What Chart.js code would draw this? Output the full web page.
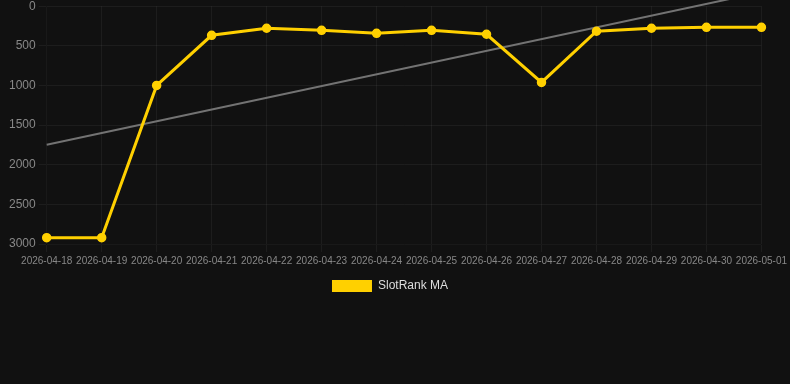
<!DOCTYPE html>
<html>
<head>
<meta charset="utf-8">
<script src="https://cdn.jsdelivr.net/npm/chart.js@4"></script>
<style>
    html, body { margin: 0; padding: 0; background: #111111; overflow: hidden; }
    #wrap { width: 790px; height: 306px; position: relative; margin-top: -4px; }
</style>
</head>
<body>
<div id="wrap"><canvas id="rankChart"></canvas></div>
<script>
const dates = ["2026-04-18", "2026-04-19", "2026-04-20", "2026-04-21", "2026-04-22", "2026-04-23", "2026-04-24",
    "2026-04-25", "2026-04-26", "2026-04-27", "2026-04-28", "2026-04-29", "2026-04-30", "2026-05-01"];
const rankMA = [2920, 2920, 1000, 367, 278, 304, 342, 304, 354, 962, 316, 278, 266, 266];
// trend line: only the two ends
const trend = [1747, null, null, null, null, null, null, null, null, null, null, null, null, -177];
const yTicks = [0, 500, 1000, 1500, 2000, 2500, 3000];

document.addEventListener("DOMContentLoaded", () => {
    const ctx = document.getElementById("rankChart");
    new Chart(ctx, {
        type: "line",
        data: {
            labels: dates,
            datasets: [
                {
                    label: "SlotRank MA",
                    data: rankMA,
                    borderColor: "#FFD000",
                    backgroundColor: "#FFD000",
                    borderWidth: 3,
                    pointRadius: 4,
                    pointBorderWidth: 1.5,
                    pointHoverRadius: 5,
                    tension: 0
                },
                {
                    label: "trend",
                    data: trend,
                    spanGaps: true,
                    clip: false,
                    borderColor: "#737373",
                    borderWidth: 2,
                    pointRadius: 0,
                    tension: 0
                }
            ]
        },
        options: {
            responsive: true,
            maintainAspectRatio: false,
            animation: false,
            layout: { padding: { left: 6, right: 16 } },
            plugins: {
                legend: {
                    position: "bottom",
                    labels: {
                        color: "#dddddd",
                        font: { family: "Liberation Sans, Arial", size: 12 },
                        boxWidth: 40,
                        boxHeight: 12,
                        generateLabels: chart => Chart.defaults.plugins.legend.labels.generateLabels(chart)
                            .filter(item => item.text !== "trend")
                            .map(item => ({ ...item, lineWidth: 0 }))
                    }
                },
                tooltip: { enabled: false }
            },
            scales: {
                x: {
                    grid: { color: "rgba(255,255,255,0.05)" },
                    ticks: {
                        color: "#888888",
                        font: { family: "Liberation Sans, Arial", size: 10 },
                        maxRotation: 0,
                        autoSkip: false
                    }
                },
                y: {
                    reverse: true,
                    min: 0,
                    max: 3000,
                    afterBuildTicks: axis => { axis.ticks = yTicks.map(v => ({ value: v })); },
                    grid: { color: "rgba(255,255,255,0.05)" },
                    ticks: {
                        color: "#888888",
                        font: { family: "Liberation Sans, Arial", size: 12 },
                        callback: v => String(v)
                    }
                }
            }
        }
    });
});
</script>
</body>
</html>
